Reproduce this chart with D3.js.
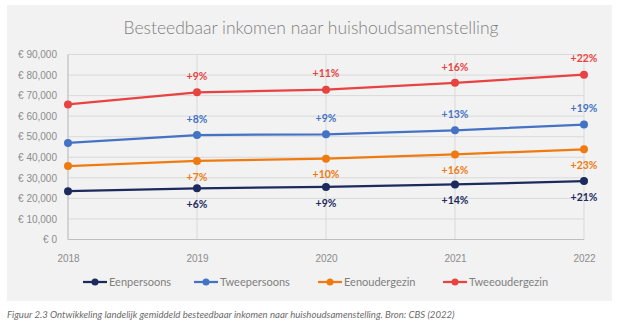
<!DOCTYPE html>
<meta charset="utf-8">
<style>
body { margin: 0; background: #fff; }
svg { font-family: Lato, "Open Sans", sans-serif; }
.grid line { stroke: #d9d9d9; stroke-width: 1px; }
.axis text { fill: #8c8c8c; font-size: 10px; }
.axis path, .axis line { display: none; }
.title { fill: #7f7f7f; font-size: 17.5px; font-weight: 300; }
.pct { font-size: 10.5px; font-weight: bold; }
.legend text { fill: #7f7f7f; font-size: 11px; }
.caption { fill: #6b6b6b; font-size: 9.6px; font-style: italic; }
</style>
<body>
<script src="https://cdn.jsdelivr.net/npm/d3@7/dist/d3.min.js"></script>
<script>
var years = ["2018", "2019", "2020", "2021", "2022"];
var yTicks = [0, 10000, 20000, 30000, 40000, 50000, 60000, 70000, 80000, 90000];

var eenpersoons    = [23500, 24900, 25600, 26800, 28400];
var tweepersoons   = [47000, 50800, 51200, 53100, 55900];
var eenoudergezin  = [35700, 38200, 39300, 41400, 43900];
var tweeoudergezin = [65700, 71600, 72900, 76200, 80200];

var pctEenpersoons    = ["", "+6%", "+9%", "+14%", "+21%"];
var pctTweepersoons   = ["", "+8%", "+9%", "+13%", "+19%"];
var pctEenoudergezin  = ["", "+7%", "+10%", "+16%", "+23%"];
var pctTweeoudergezin = ["", "+9%", "+11%", "+16%", "+22%"];

var series = [
  {name: "Eenpersoons",    values: eenpersoons,    pct: pctEenpersoons,    color: "#1c2b5e", above: false},
  {name: "Tweepersoons",   values: tweepersoons,   pct: pctTweepersoons,   color: "#4472c4", above: true},
  {name: "Eenoudergezin",  values: eenoudergezin,  pct: pctEenoudergezin,  color: "#ef7b10", above: false},
  {name: "Tweeoudergezin", values: tweeoudergezin, pct: pctTweeoudergezin, color: "#e84340", above: true}
];

var width = 618, height = 326;

var svg = d3.select("body").append("svg")
    .attr("width", width)
    .attr("height", height);

// chart panel
svg.append("rect")
    .attr("x", 7).attr("y", 5)
    .attr("width", 605).attr("height", 296)
    .attr("fill", "#f2f2f2");

svg.append("text")
    .attr("class", "title")
    .attr("x", 311).attr("y", 34)
    .attr("text-anchor", "middle")
    .text("Besteedbaar inkomen naar huishoudsamenstelling");

var x = d3.scalePoint().domain(years).range([68, 584]);
var y = d3.scaleLinear().domain([0, 90000]).range([239.5, 54.5]);

var grid = svg.append("g").attr("class", "grid");
grid.selectAll(".h")
    .data(yTicks)
  .enter().append("line")
    .attr("x1", 68).attr("x2", 584)
    .attr("y1", function(d) { return y(d); })
    .attr("y2", function(d) { return y(d); });
grid.selectAll(".v")
    .data(years)
  .enter().append("line")
    .attr("x1", function(d) { return x(d); })
    .attr("x2", function(d) { return x(d); })
    .attr("y1", y(0)).attr("y2", y(90000));

// axis lines
svg.append("line")
    .attr("x1", 68).attr("x2", 68)
    .attr("y1", y(0)).attr("y2", y(90000))
    .attr("stroke", "#bfbfbf");
svg.append("line")
    .attr("x1", 68).attr("x2", 584)
    .attr("y1", y(0)).attr("y2", y(0))
    .attr("stroke", "#bfbfbf");

var fmt = d3.format(",");
svg.append("g")
    .attr("class", "axis")
    .attr("transform", "translate(68,0)")
    .call(d3.axisLeft(y).tickValues(yTicks).tickSize(0).tickPadding(11)
      .tickFormat(function(d) { return "€ " + fmt(d); }));

svg.append("g")
    .attr("class", "axis")
    .attr("transform", "translate(0," + (y(0) + 6) + ")")
    .call(d3.axisBottom(x).tickSize(0).tickPadding(9));

var line = d3.line()
    .x(function(d, i) { return x(years[i]); })
    .y(function(d) { return y(d); });

var lines = svg.selectAll(".series")
    .data(series)
  .enter().append("g")
    .attr("class", "series");

lines.append("path")
    .attr("d", function(d) { return line(d.values); })
    .attr("fill", "none")
    .attr("stroke", function(d) { return d.color; })
    .attr("stroke-width", 2.25);

lines.selectAll("circle")
    .data(function(d) { return d.values.map(function(v, i) { return {v: v, i: i, s: d}; }); })
  .enter().append("circle")
    .attr("cx", function(d) { return x(years[d.i]); })
    .attr("cy", function(d) { return y(d.v); })
    .attr("r", 4)
    .attr("fill", function(d) { return d.s.color; });

lines.selectAll(".pct")
    .data(function(d) { return d.values.map(function(v, i) { return {v: v, i: i, s: d}; }); })
  .enter().append("text")
    .attr("class", "pct")
    .attr("x", function(d) { return x(years[d.i]); })
    .attr("y", function(d) { return y(d.v) + (d.s.above ? -16 : 16); })
    .attr("dy", "0.35em")
    .attr("text-anchor", "middle")
    .attr("fill", function(d) { return d.s.color; })
    .text(function(d) { return d.s.pct[d.i]; });

// legend
var legendX = [95, 206, 330, 455];
var legend = svg.selectAll(".legend")
    .data(series)
  .enter().append("g")
    .attr("class", "legend")
    .attr("transform", function(d, i) { return "translate(" + legendX[i] + ",282)"; });
legend.append("line")
    .attr("x1", -12).attr("x2", 12)
    .attr("stroke", function(d) { return d.color; })
    .attr("stroke-width", 2.25);
legend.append("circle")
    .attr("r", 3.5)
    .attr("fill", function(d) { return d.color; });
legend.append("text")
    .attr("x", 14)
    .attr("dy", "0.35em")
    .text(function(d) { return d.name; });

svg.append("text")
    .attr("class", "caption")
    .attr("x", 7).attr("y", 318)
    .text("Figuur 2.3 Ontwikkeling landelijk gemiddeld besteedbaar inkomen naar huishoudsamenstelling. Bron: CBS (2022)");
</script>
</body>
